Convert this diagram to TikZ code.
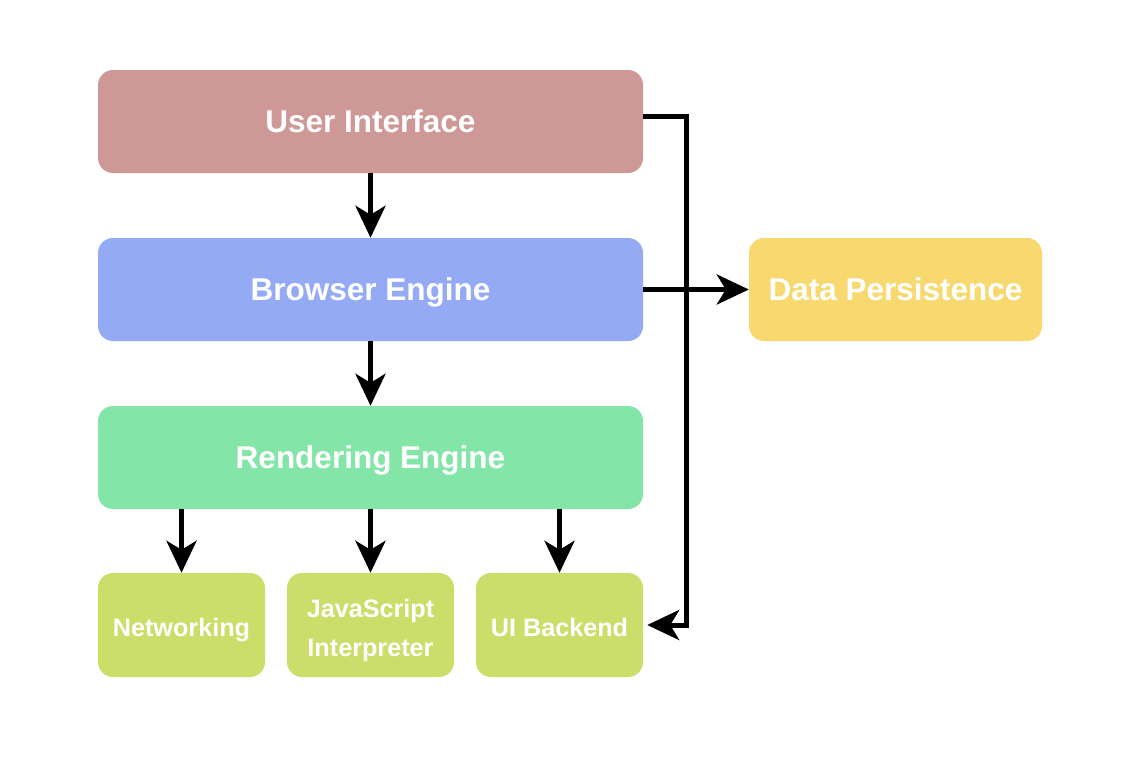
\documentclass[tikz,border=0pt]{standalone}
\usepackage{fontspec}
\setmainfont{Liberation Sans}
\usetikzlibrary{arrows.meta,positioning}
\definecolor{cUI}{HTML}{CD9896}
\definecolor{cBE}{HTML}{94AAF5}
\definecolor{cRE}{HTML}{84E5A8}
\definecolor{cLow}{HTML}{CCDE6A}
\definecolor{cDP}{HTML}{F8D970}
\tikzset{
  box/.style={rectangle, rounded corners=15pt, draw=none, text=white,
    font=\bfseries\fontsize{31.5}{37}\selectfont, inner sep=0pt, align=center,
    text height=22.5pt, text depth=0pt},
  wide/.style={box, minimum width=545pt, minimum height=103pt},
  small/.style={box, minimum width=167pt, minimum height=104pt,
    font=\bfseries\fontsize{25.2}{38.5}\selectfont, fill=cLow, text height=22pt},
  conn/.style={line width=5pt, -{Stealth[length=32pt, width=30pt, inset=9pt]}},
}
\begin{document}
\begin{tikzpicture}[x=1pt,y=-1pt]
\useasboundingbox (0,0) rectangle (1132,756);
\fill[white] (0,0) rectangle (1132,756);
\node[wide, fill=cUI] (ui) at (370.5,121.5) {User Interface};
\node[wide, fill=cBE] (be) at (370.5,289.5) {Browser Engine};
\node[wide, fill=cRE] (re) at (370.5,457.5) {Rendering Engine};
\node[small] (net) at (181.5,625) {Networking};
\node[small, text height=62pt, text depth=0pt] (js) at (370.5,625) {JavaScript\\Interpreter};
\node[small] (uib) at (559.5,625) {UI Backend};
\node[box, fill=cDP, minimum width=293pt, minimum height=103pt] (dp) at (895.5,289.5) {Data Persistence};
\draw[conn] (ui) -- (be);
\draw[conn] (be) -- (re);
\draw[conn] (re.south -| net) -- (net);
\draw[conn] (re.south -| js) -- (js);
\draw[conn] (re.south -| uib) -- (uib);
\draw[conn] (be.east) -- (dp.west);
\draw[conn, shorten >=4pt] ([yshift=5pt]ui.east) -- ++(43,0) |- (uib.east);
\end{tikzpicture}
\end{document}
